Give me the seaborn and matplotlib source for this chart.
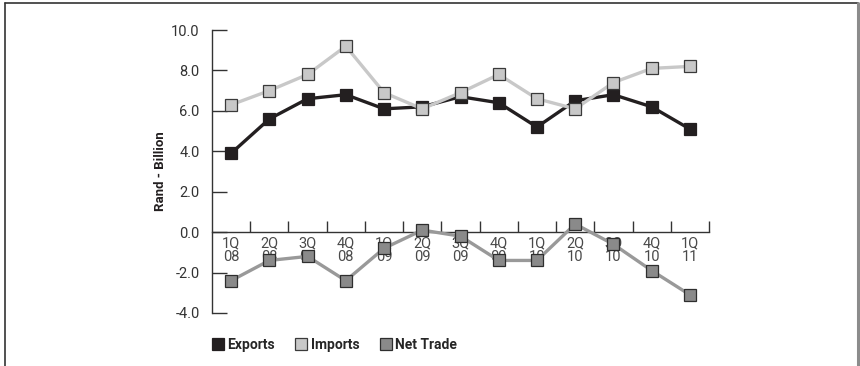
import numpy as np
import pandas as pd
import matplotlib
matplotlib.use("Agg")
import matplotlib.pyplot as plt
from matplotlib.lines import Line2D
from matplotlib.ticker import FixedLocator
import seaborn as sns

# Quarterly trade data (Rand - Billion)
quarters = ["1Q\n08", "2Q\n08", "3Q\n08", "4Q\n08", "1Q\n09", "2Q\n09", "3Q\n09",
            "4Q\n09", "1Q\n10", "2Q\n10", "3Q\n10", "4Q\n10", "1Q\n11"]
exports = [3.9, 5.6, 6.6, 6.8, 6.1, 6.2, 6.7, 6.4, 5.2, 6.5, 6.8, 6.2, 5.1]
imports = [6.3, 7.0, 7.8, 9.2, 6.9, 6.1, 6.9, 7.8, 6.6, 6.1, 7.4, 8.1, 8.2]
net_trade = [-2.4, -1.4, -1.2, -2.4, -0.8, 0.1, -0.2, -1.4, -1.4, 0.4, -0.6, -1.9, -3.1]
y_ticks = [-4.0, -2.0, 0.0, 2.0, 4.0, 6.0, 8.0, 10.0]

sns.set_style("white")
plt.rcParams["font.family"] = ["Roboto", "DejaVu Sans"]

df = pd.DataFrame({"pos": np.arange(len(quarters)), "Exports": exports,
                   "Imports": imports, "Net Trade": net_trade})

series = [
    ("Exports", "#231f20", "#231f20", "#231f20"),
    ("Imports", "#c8c8c8", "#c8c8c8", "#3a3a3a"),
    ("Net Trade", "#999999", "#8a8a8a", "#2e2e2e"),
]

fig = plt.figure(figsize=(8.6, 3.66), dpi=100)
ax = fig.add_axes([212 / 860, 53 / 366, 497 / 860, 283 / 366])

for name, lc, fc, ec in series:
    sns.lineplot(data=df, x="pos", y=name, ax=ax, color=lc, linewidth=2.4,
                 marker="s", markersize=8.5, markerfacecolor=fc,
                 markeredgecolor=ec, markeredgewidth=0.9, sort=False,
                 legend=False, clip_on=False, zorder=3)

ax.set_xlim(-0.5, len(quarters) - 0.5)
ax.set_ylim(-4, 10)

# spines: left axis and x axis on the zero line
for s in ["top", "right"]:
    ax.spines[s].set_visible(False)
ax.spines["bottom"].set_position(("data", 0))
for s in ["left", "bottom"]:
    ax.spines[s].set_color("#333333")
    ax.spines[s].set_linewidth(1.0)

ax.set_xticks(df["pos"])
ax.set_xticklabels(quarters, fontsize=10.5, color="#4a4a4a", linespacing=1.0)
ax.xaxis.set_minor_locator(FixedLocator(np.arange(0.5, len(quarters), 1.0)))
ax.tick_params(axis="x", which="major", bottom=True, length=0, pad=3)
ax.tick_params(axis="x", which="minor", bottom=True, direction="in", length=8,
               width=1.0, color="#333333")

ax.set_yticks(y_ticks)
ax.set_yticklabels([f"{v:.1f}" for v in y_ticks], fontsize=10.5, color="#333333")
ax.tick_params(axis="y", left=True, direction="in", length=11, width=1.0,
               color="#333333", pad=9)
ax.set_xlabel("")
ax.set_ylabel("Rand - Billion", fontsize=9.5, fontweight="bold",
              color="#231f20", labelpad=3)

# legend
handles = [Line2D([], [], linestyle="none", marker="s", markersize=9,
                  markerfacecolor=fc, markeredgecolor=ec, markeredgewidth=0.9)
           for name, lc, fc, ec in series]
fig.legend(handles, [s[0] for s in series], loc="lower left",
           bbox_to_anchor=(199 / 860, 0.005), ncol=3, frameon=False,
           handletextpad=0.15, columnspacing=1.4, handlelength=1.0,
           prop={"size": 10, "weight": "bold"})

# page frame (top, left, right)
fig.add_artist(Line2D([5 / 860, 5 / 860], [0, 1 - 3 / 366], color="#333333", lw=1.2))
fig.add_artist(Line2D([5 / 860, 858 / 860], [1 - 3 / 366, 1 - 3 / 366], color="#333333", lw=1.2))
fig.add_artist(Line2D([858 / 860, 858 / 860], [0, 1 - 3 / 366], color="#8c8c8c", lw=2.2))

fig.savefig("out.png", dpi=100)
